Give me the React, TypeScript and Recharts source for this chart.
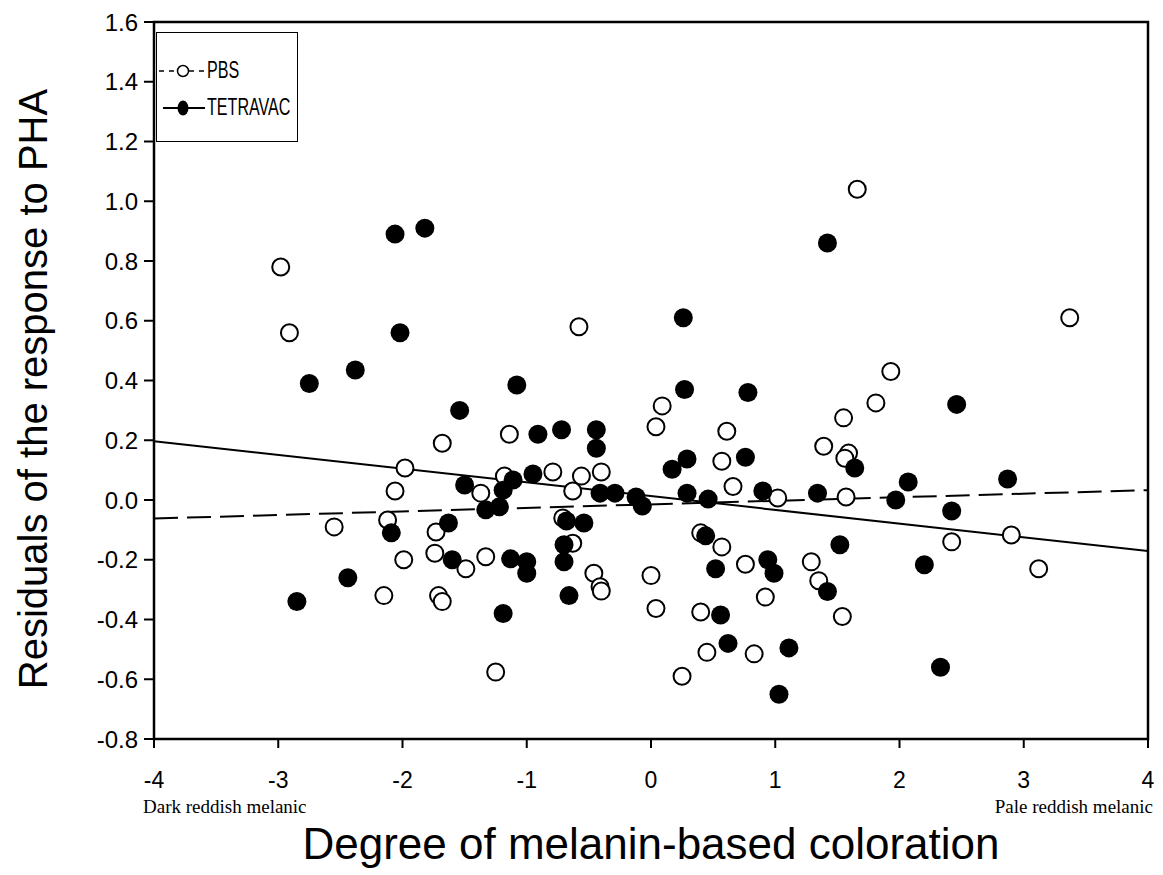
import {
  ScatterChart,
  Scatter,
  XAxis,
  YAxis,
  ReferenceArea,
  Legend,
} from "recharts";

// PBS group (open circles)
const pbsX = [
  -2.98, -2.91, -0.58, 1.66, 3.37, 1.93, 1.81, 1.55, 1.39, 1.59, 1.56, 1.57,
  2.42, 2.9, 3.12, 1.54, 1.29, 1.35, 0.09, 0.04, 0.61, 0.57, 0.66, 1.02,
  -1.14, -1.68, -1.98, -2.06, -1.37, -2.55, -2.12, -1.73, -1.74, -1.49, -1.33,
  -1.99, -2.15, -1.71, -1.68, -1.18, -0.79, -0.56, -0.4, -0.63, -0.71, -0.63,
  -0.46, -0.41, -0.4, 0.0, 0.4, 0.57, 0.76, 0.04, 0.4, 0.92, 0.45, 0.83,
  -1.25, 0.25,
];
const pbsY = [
  0.78, 0.56, 0.58, 1.04, 0.61, 0.43, 0.325, 0.275, 0.18, 0.157, 0.14, 0.01,
  -0.14, -0.117, -0.23, -0.39, -0.207, -0.27, 0.315, 0.245, 0.23, 0.13, 0.045,
  0.007, 0.22, 0.19, 0.107, 0.03, 0.023, -0.09, -0.067, -0.107, -0.178, -0.23,
  -0.19, -0.2, -0.32, -0.32, -0.34, 0.08, 0.094, 0.08, 0.094, 0.03, -0.06,
  -0.145, -0.245, -0.29, -0.305, -0.253, -0.11, -0.157, -0.215, -0.363,
  -0.375, -0.325, -0.51, -0.515, -0.576, -0.59,
];

// TETRAVAC group (filled circles)
const tetraX = [
  -2.06, -1.82, -2.02, -2.38, -2.75, -1.54, 1.42, 2.46, 0.26, -1.08, 0.27,
  0.78, -0.91, -0.72, -0.44, -0.44, 0.29, 0.17, 0.76, 1.64, 2.07, 2.87, -1.5,
  -1.33, -1.22, -1.19, -1.11, -0.95, -0.41, -0.29, -0.12, -0.07, 0.29, 0.46,
  0.9, 1.34, 1.97, 2.42, -2.09, -1.63, -1.6, -2.44, -2.85, -0.68, -0.54, -0.7,
  -0.7, -1.13, -1.0, -1.0, -0.66, -1.19, 0.44, 0.52, 0.94, 0.99, 1.52, 1.42,
  2.2, 0.56, 0.62, 1.11, 1.03, 2.33,
];
const tetraY = [
  0.89, 0.91, 0.56, 0.435, 0.39, 0.3, 0.86, 0.32, 0.61, 0.385, 0.37, 0.36,
  0.22, 0.235, 0.235, 0.173, 0.137, 0.103, 0.143, 0.107, 0.06, 0.07, 0.05,
  -0.033, -0.023, 0.033, 0.067, 0.087, 0.023, 0.023, 0.01, -0.02, 0.023,
  0.003, 0.03, 0.023, 0.0, -0.037, -0.11, -0.077, -0.2, -0.26, -0.34, -0.07,
  -0.077, -0.15, -0.207, -0.197, -0.207, -0.245, -0.32, -0.38, -0.12, -0.23,
  -0.2, -0.245, -0.15, -0.306, -0.217, -0.385, -0.48, -0.495, -0.65, -0.56,
];

// fitted regression lines (end points)
const fitX = [-4, 4];
const pbsFitY = [-0.062, 0.033];
const tetraFitY = [0.197, -0.171];

const xTicks = [-4, -3, -2, -1, 0, 1, 2, 3, 4];
const yTicks = [-0.8, -0.6, -0.4, -0.2, 0, 0.2, 0.4, 0.6, 0.8, 1.0, 1.2, 1.4, 1.6];

const pbsData = pbsX.map((x, i) => ({ x, y: pbsY[i] }));
const tetraData = tetraX.map((x, i) => ({ x, y: tetraY[i] }));
const pbsFit = fitX.map((x, i) => ({ x, y: pbsFitY[i] }));
const tetraFit = fitX.map((x, i) => ({ x, y: tetraFitY[i] }));

const SANS = "'Liberation Sans', Arial, sans-serif";
const SERIF = "'Liberation Serif', 'Times New Roman', serif";

const OpenDot = (p: any) => (
  <circle cx={p.cx} cy={p.cy} r={8.5} fill="#fff" stroke="#000" strokeWidth={2} />
);
const FilledDot = (p: any) => (
  <circle cx={p.cx} cy={p.cy} r={9.5} fill="#000" stroke="#000" strokeWidth={0} />
);
const NoDot = () => <g />;

const XLabels = () => (
  <g>
    <text x={135} y={805} fontFamily={SERIF} fontSize={19} fill="#000">
      Dark reddish melanic
    </text>
    <text x={1145} y={805} fontFamily={SERIF} fontSize={19} fill="#000" textAnchor="end">
      Pale reddish melanic
    </text>
    <text x={643} y={851} fontFamily={SANS} fontSize={44} fill="#000" textAnchor="middle">
      Degree of melanin-based coloration
    </text>
  </g>
);

const YLabel = () => (
  <text
    x={39}
    y={381}
    transform="rotate(-90, 39, 381)"
    fontFamily={SANS}
    fontSize={40}
    fill="#000"
    textAnchor="middle"
  >
    Residuals of the response to PHA
  </text>
);

const legendText = {
  display: "inline-block",
  marginLeft: 1,
  transform: "scaleX(0.7)",
  transformOrigin: "left center",
  whiteSpace: "nowrap" as const,
};

const LegendBox = () => (
  <div
    style={{
      width: 142,
      height: 110,
      border: "1.5px solid #000",
      background: "#fff",
      fontFamily: SANS,
      fontSize: 23,
      boxSizing: "border-box",
      position: "relative",
    }}
  >
    <div style={{ position: "absolute", left: 1, top: 24, display: "flex", alignItems: "center" }}>
      <svg width={48} height={20}>
        <line x1={1} y1={10} x2={47} y2={10} stroke="#000" strokeWidth={1.5} strokeDasharray="5 5" />
        <circle cx={25} cy={10} r={5.5} fill="#fff" stroke="#000" strokeWidth={1.5} />
      </svg>
      <span style={legendText}>PBS</span>
    </div>
    <div style={{ position: "absolute", left: 1, top: 61, display: "flex", alignItems: "center" }}>
      <svg width={48} height={20}>
        <line x1={5} y1={10} x2={47} y2={10} stroke="#000" strokeWidth={2} />
        <ellipse cx={25} cy={10} rx={5.5} ry={7.5} fill="#000" />
      </svg>
      <span style={legendText}>TETRAVAC</span>
    </div>
  </div>
);

export default function App() {
  return (
    <div style={{ position: "relative", width: 1150, height: 860, background: "#fff" }}>
      <ScatterChart
        width={1150}
        height={860}
        margin={{ top: 14, right: 10, bottom: 0, left: 0 }}
      >
        <XAxis
          type="number"
          dataKey="x"
          domain={[-4, 4]}
          ticks={xTicks}
          allowDataOverflow
          height={129}
          tickSize={9}
          tickMargin={24}
          axisLine={{ stroke: "#000", strokeWidth: 2 }}
          tickLine={{ stroke: "#000", strokeWidth: 2 }}
          tick={{ fill: "#000", fontSize: 23, fontFamily: SANS }}
          label={<XLabels />}
        />
        <YAxis
          type="number"
          dataKey="y"
          domain={[-0.8, 1.6]}
          ticks={yTicks}
          allowDataOverflow
          width={146}
          tickSize={10}
          tickMargin={6}
          tickFormatter={(v: number) => v.toFixed(1)}
          axisLine={{ stroke: "#000", strokeWidth: 2 }}
          tickLine={{ stroke: "#000", strokeWidth: 2 }}
          tick={{ fill: "#000", fontSize: 24, fontFamily: SANS }}
          label={<YLabel />}
        />
        <ReferenceArea
          x1={-4}
          x2={4}
          y1={-0.8}
          y2={1.6}
          fill="none"
          stroke="#000"
          strokeWidth={2.5}
          ifOverflow="visible"
        />
        <Scatter
          data={pbsFit}
          line={{ stroke: "#000", strokeWidth: 2, strokeDasharray: "24 9" }}
          shape={NoDot}
          isAnimationActive={false}
        />
        <Scatter
          data={tetraFit}
          line={{ stroke: "#000", strokeWidth: 2 }}
          shape={NoDot}
          isAnimationActive={false}
        />
        <Scatter data={pbsData} shape={OpenDot} isAnimationActive={false} />
        <Scatter data={tetraData} shape={FilledDot} isAnimationActive={false} />
        <Legend
          layout="horizontal"
          verticalAlign="middle"
          align="center"
          content={<LegendBox />}
          wrapperStyle={{ position: "absolute", left: 148, top: 24, width: "auto" }}
        />
      </ScatterChart>
    </div>
  );
}
